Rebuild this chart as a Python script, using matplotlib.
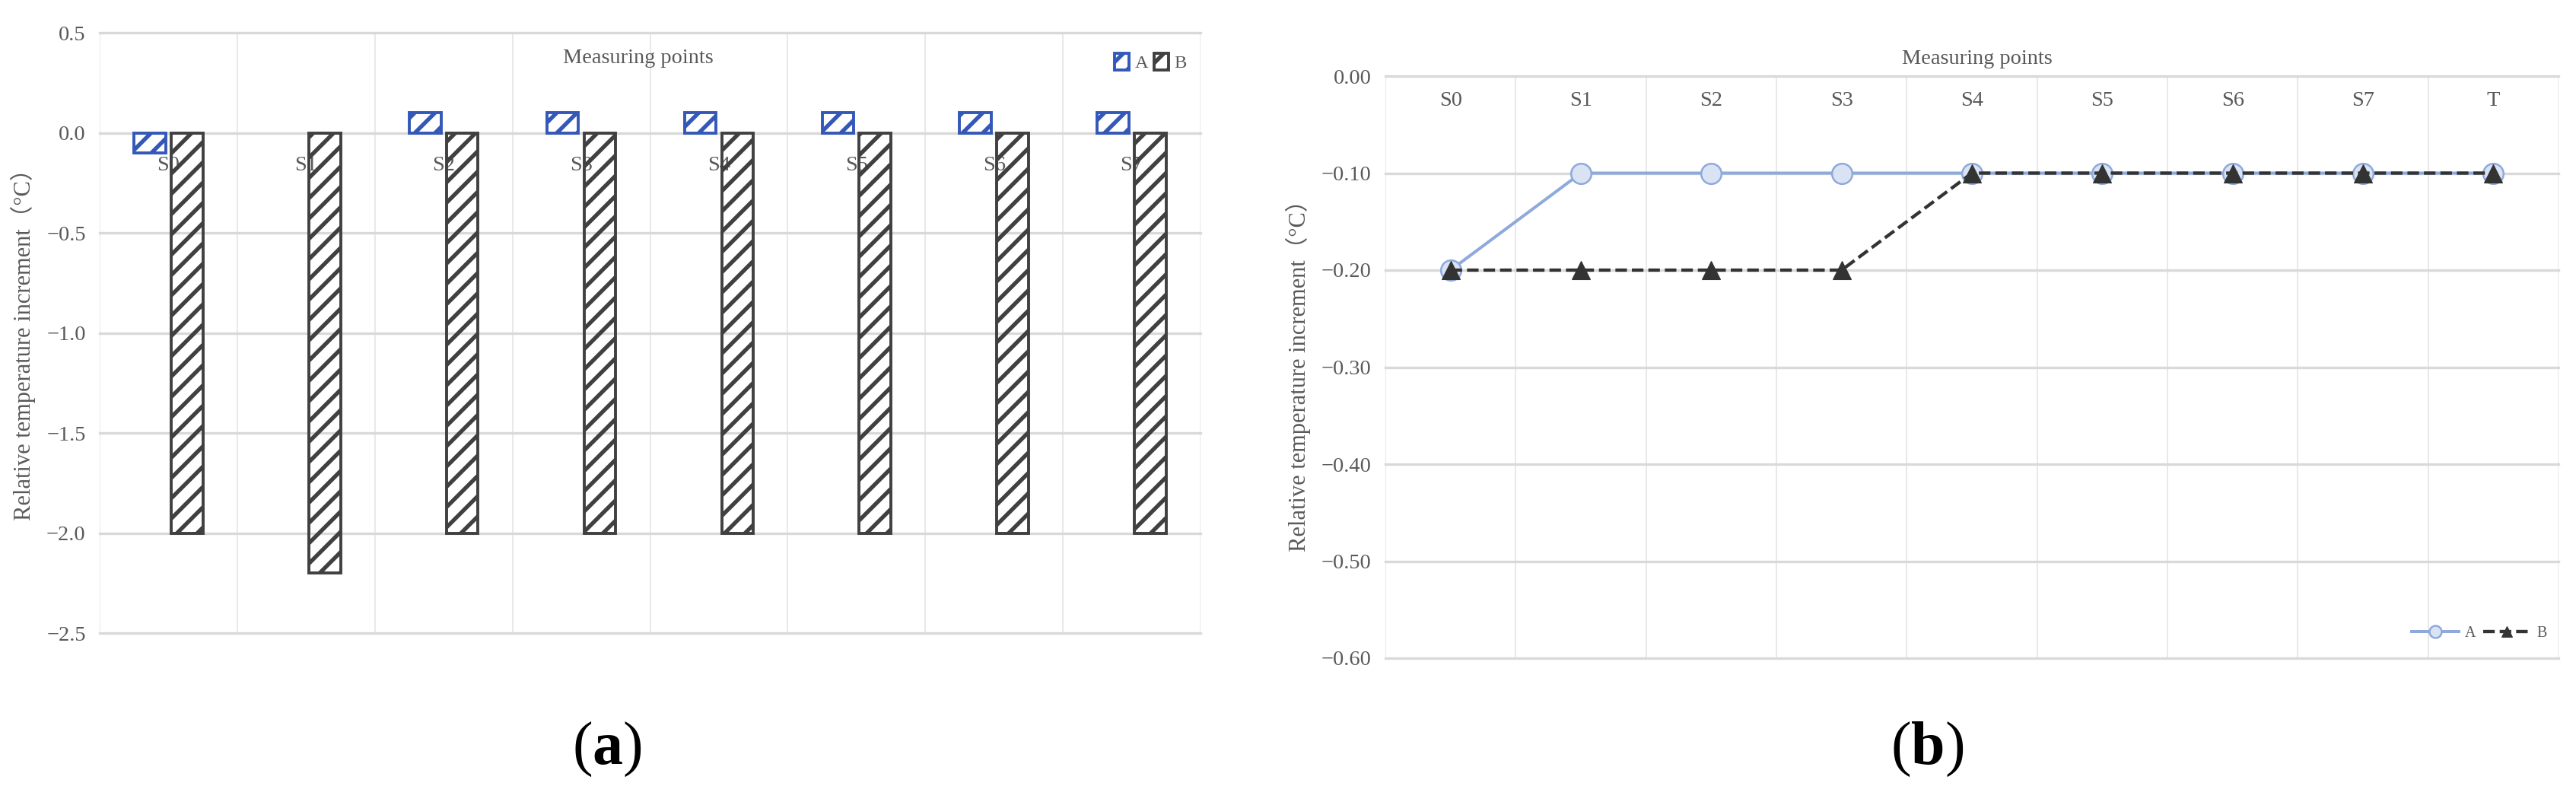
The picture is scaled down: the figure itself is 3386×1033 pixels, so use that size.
import numpy as np
import matplotlib
matplotlib.use('Agg')
import matplotlib.pyplot as plt
from matplotlib.ticker import FuncFormatter

# Данные: столбчатая диаграмма (a)
points_a = ['S0', 'S1', 'S2', 'S3', 'S4', 'S5', 'S6', 'S7']
bar_a = [-0.1, 0.0, 0.1, 0.1, 0.1, 0.1, 0.1, 0.1]
bar_b = [-2.0, -2.2, -2.0, -2.0, -2.0, -2.0, -2.0, -2.0]
yticks_a = [-2.5, -2.0, -1.5, -1.0, -0.5, 0.0, 0.5]

# Данные: линейный график (b)
points_b = ['S0', 'S1', 'S2', 'S3', 'S4', 'S5', 'S6', 'S7', 'T']
line_a = [-0.2, -0.1, -0.1, -0.1, -0.1, -0.1, -0.1, -0.1, -0.1]
line_b = [-0.2, -0.2, -0.2, -0.2, -0.1, -0.1, -0.1, -0.1, -0.1]
yticks_b = [-0.6, -0.5, -0.4, -0.3, -0.2, -0.1, 0.0]

ylabel = 'Relative temperature increment（°C）'
xtitle = 'Measuring points'

plt.rcParams['font.family'] = ['Liberation Serif', 'Noto Sans CJK SC']
plt.rcParams['hatch.linewidth'] = 4.8
plt.rcParams['mathtext.fontset'] = 'custom'
plt.rcParams['mathtext.rm'] = 'Liberation Serif'
plt.rcParams['mathtext.bf'] = 'Liberation Serif:bold'

TXT = '#595959'
HGRID = '#D9D9D9'
VGRID = '#E6E6E6'

# dpi 80 -> штриховка с шагом ~13 px, как в оригинале
DPI = 80
fig = plt.figure(figsize=(3386 / DPI, 1033 / DPI), dpi=DPI)
fig.patch.set_facecolor('white')

ax1 = fig.add_axes([131 / 3386, 201 / 1033, 1447 / 3386, 789 / 1033])
ax2 = fig.add_axes([1821 / 3386, 168 / 1033, 1542 / 3386, 765 / 1033])


def style_grid(ax, n):
    # сетка как в Excel: толстые горизонтальные, тонкие вертикальные линии
    ax.set_axisbelow(True)
    for s in ax.spines.values():
        s.set_visible(False)
    ax.set_xticks(np.arange(-0.5, n, 1), minor=True)
    ax.grid(axis='y', which='major', color=HGRID, lw=3)
    ax.grid(axis='x', which='minor', color=VGRID, lw=1.65)
    ax.grid(axis='x', which='major', visible=False)
    for line in ax.get_ygridlines() + ax.get_xgridlines():
        line.set_clip_on(False)
    ax.tick_params(axis='both', which='both', length=0)
    ax.tick_params(axis='y', pad=16.5, labelsize=25.5, labelcolor=TXT)
    ax.set_xlim(-0.5, n - 0.5)


# ---------- (a) ----------
x = np.arange(len(points_a))
bars_a = ax1.bar(x - 0.135, bar_a, width=0.23, facecolor='none', edgecolor='#3358B8',
                 hatch='/', linewidth=3.5, zorder=3, label='A')
bars_b = ax1.bar(x + 0.135, bar_b, width=0.23, facecolor='none', edgecolor='#404040',
                 hatch='/', linewidth=3.5, zorder=3, label='B')
for patch, v in zip(bars_a, bar_a):
    if v == 0:
        patch.set_visible(False)

ax1.set_ylim(-2.5, 0.5)
ax1.set_yticks(yticks_a)
ax1.yaxis.set_major_formatter(FuncFormatter(lambda v, p: f'{v:.1f}'.replace('-', '\u2212')))
style_grid(ax1, len(points_a))

# подписи точек по линии нуля, под столбцами
ax1.spines['bottom'].set_position(('data', 0))
ax1.set_xticks(x)
ax1.set_xticklabels(points_a)
ax1.tick_params(axis='x', which='major', pad=27, labelsize=25.5, labelcolor=TXT)

ax1.text(0.489, 0.957, xtitle, transform=ax1.transAxes, ha='center', va='center',
         fontsize=25.5, color=TXT)
ax1.set_ylabel(ylabel, fontsize=27.5, color=TXT, va='center')
ax1.yaxis.set_label_coords(-0.0698, 0.49)

ax1.legend(loc='center right', bbox_to_anchor=(0.9876, 0.9506), ncol=2, frameon=False,
           fontsize=22, handlelength=0.8, handleheight=1.0, handletextpad=0.3,
           columnspacing=0.3, borderaxespad=0, borderpad=0, labelcolor=TXT)

# ---------- (b) ----------
xb = np.arange(len(points_b))
ax2.plot(xb, line_a, color='#8EA9DB', lw=3.6, marker='o', ms=24, mfc='#DAE3F3',
         mec='#8EA9DB', mew=2.25, label='A', zorder=3)
ax2.plot(xb, line_b, color='#333333', lw=3.9, ls=(0, (3.5, 1.5)), marker='^', ms=21,
         mfc='#333333', mec='#333333', label='B', zorder=4)

ax2.set_ylim(-0.6, 0.0)
ax2.set_yticks(yticks_b)
ax2.yaxis.set_major_formatter(FuncFormatter(lambda v, p: f'{abs(v):.2f}' if abs(v) < 1e-9
                                            else f'{v:.2f}'.replace('-', '\u2212')))
style_grid(ax2, len(points_b))

ax2.set_xticks(xb)
ax2.set_xticklabels(points_b)
ax2.tick_params(axis='x', which='major', top=True, labeltop=True, bottom=False,
                labelbottom=False, pad=-40.5, labelsize=25.5, labelcolor=TXT)

ax2.text(0.5045, 1.029, xtitle, transform=ax2.transAxes, ha='center', va='center',
         fontsize=25.5, color=TXT)
ax2.set_ylabel(ylabel, fontsize=27.5, color=TXT, va='center')
ax2.yaxis.set_label_coords(-0.0746, 0.495)

ax2.legend(loc='center right', bbox_to_anchor=(0.99, 0.043), ncol=2, frameon=False,
           fontsize=18, handlelength=3.1, handletextpad=0.4, columnspacing=0.5,
           markerscale=0.6, borderaxespad=0, borderpad=0, labelcolor=TXT)

# подписи панелей
fig.text(0.2357, 0.0465, r'$\mathrm{(}\mathbf{a}\mathrm{)}$', fontsize=72, ha='center', va='center')
fig.text(0.748, 0.0465, r'$\mathrm{(}\mathbf{b}\mathrm{)}$', fontsize=72, ha='center', va='center')

fig.savefig('out.png', dpi=DPI)
